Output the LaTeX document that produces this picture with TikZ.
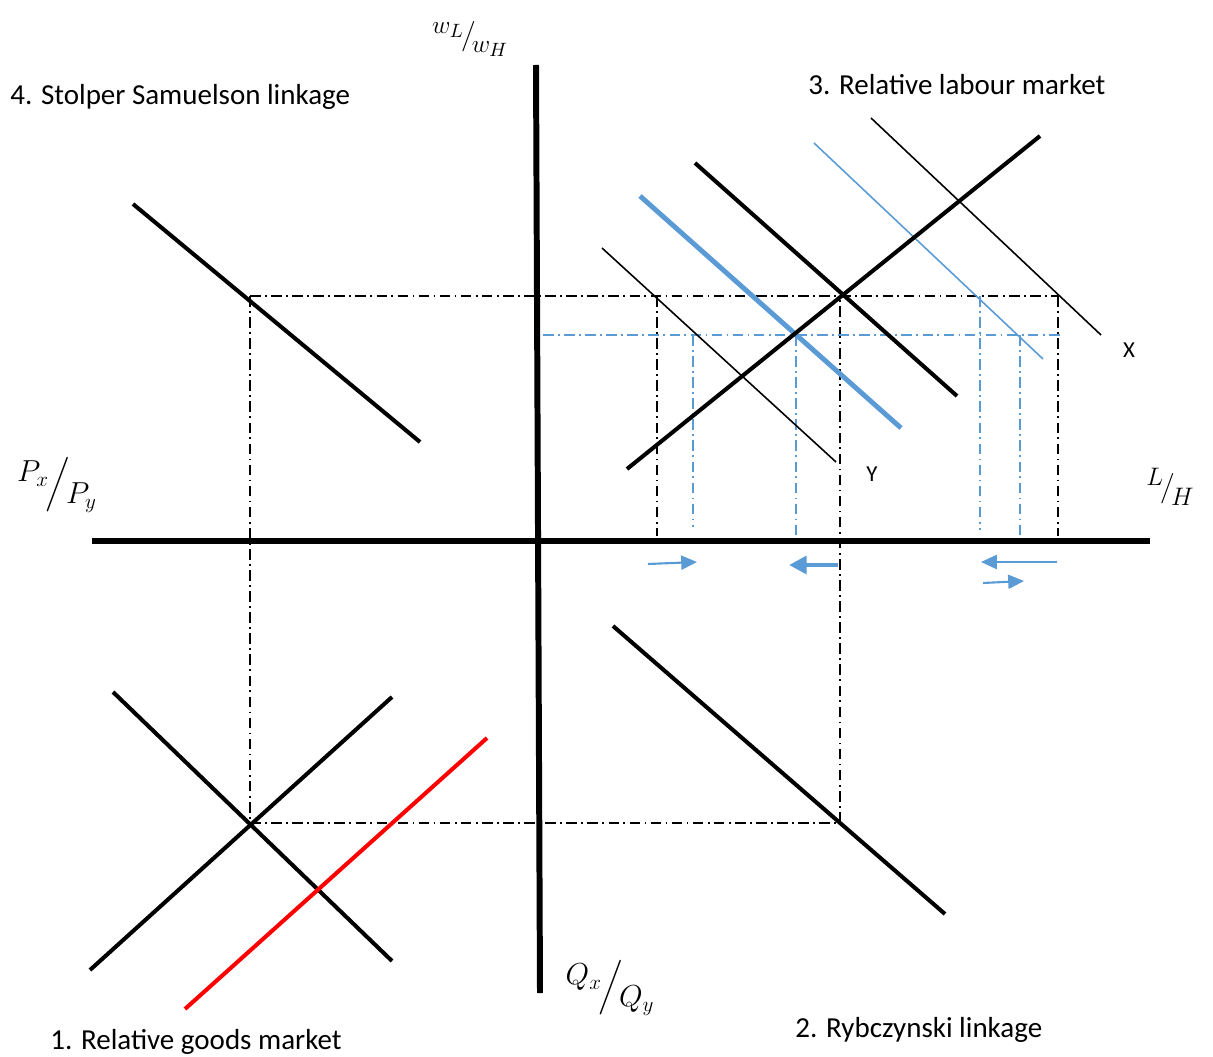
\documentclass[tikz,border=0pt]{standalone}
\usepackage{fontspec}
\setmainfont{Carlito}
\usepackage{amsmath}
\usetikzlibrary{arrows.meta, calc}
\definecolor{offblue}{RGB}{91,155,213}
\newcommand{\ratio}[3][\big]{\raisebox{0.75ex}{$#2$}\kern-0.1em$#1/$\kern-0.15em\raisebox{-0.8ex}{$#3$}}

\begin{document}
\begin{tikzpicture}[
  x=0.02cm, y=-0.02cm,
  axis/.style={line width=3.4pt},
  curve/.style={line width=2.3pt},
  thincurve/.style={line width=0.9pt},
  guide/.style={line width=0.8pt, dash pattern=on 6pt off 2.5pt on 1pt off 2.5pt},
  blueguide/.style={guide, offblue},
  shiftarrow/.style={offblue, line width=1.2pt, -{Triangle[length=9pt,width=8pt]}},
  every node/.style={font=\fontsize{16.5}{19}\selectfont, inner sep=0pt}
]
  \useasboundingbox (0,0) rectangle (1213,1057);

  % Assi
  \coordinate (xl) at (92,541);
  \coordinate (xr) at (1150,541);
  \coordinate (yt) at (536,65);
  \coordinate (yb) at (540,993);

  % Punti di equilibrio
  \coordinate (E4) at (250,296);
  \coordinate (E1) at (250,823);
  \coordinate (E2) at (840,823);
  \coordinate (E3) at (840,296);
  \coordinate (Yup) at (657,296);
  \coordinate (Xup) at (1058,296);

  % --- linee guida ---
  \draw[guide] (E4) -- (Xup);
  \draw[guide] (E4) -- (E1) -- (E2) -- (E3);
  \draw[guide] (Yup) -- (657,536);
  \draw[guide] (Xup) -- (1058,536);
  \draw[blueguide] (543,335) -- (1060,335);
  \draw[blueguide] (693,335) -- (693,527);
  \draw[blueguide] (796,335) -- (796,541);
  \draw[blueguide] (980,296) -- (980,530);
  \draw[blueguide] (1020,335) -- (1020,541);

  \draw[axis] (xl) -- (xr);
  \draw[axis] (yt) -- (yb);

  % --- 4. Stolper Samuelson ---
  \coordinate (ss1) at (133,204);
  \coordinate (ss2) at (420,442);
  \draw[curve] (ss1) -- (ss2);

  % --- 3. mercato del lavoro ---
  \coordinate (ls1) at (627,469);
  \coordinate (ls2) at (1040,136);
  \coordinate (ld1) at (695,163);
  \coordinate (ld2) at (957,396);
  \coordinate (lb1) at (640,196);
  \coordinate (lb2) at (901,428);
  \coordinate (y1) at (602,248);
  \coordinate (y2) at (836,462);
  \coordinate (bx1) at (814,143);
  \coordinate (bx2) at (1043,359);
  \coordinate (x1) at (871,118);
  \coordinate (x2) at (1101,335);
  \draw[thincurve] (y1) -- (y2);
  \draw[thincurve] (x1) -- (x2);
  \draw[thincurve, offblue] (bx1) -- (bx2);
  \draw[line width=2.8pt, offblue] (lb1) -- (lb2);
  \draw[curve] (ld1) -- (ld2);
  \draw[curve] (ls1) -- (ls2);

  % --- 2. Rybczynski ---
  \coordinate (ry1) at (613,626);
  \coordinate (ry2) at (945,914);
  \draw[curve] (ry1) -- (ry2);

  % --- 1. mercato dei beni ---
  \coordinate (gd1) at (113,692);
  \coordinate (gd2) at (392,961);
  \coordinate (gs1) at (90,970);
  \coordinate (gs2) at (392,697);
  \coordinate (gr1) at (185,1009);
  \coordinate (gr2) at (487,738);
  \draw[curve] (gd1) -- (gd2);
  \draw[curve] (gs1) -- (gs2);
  \draw[curve, red] (gr1) -- (gr2);

  % --- frecce ---
  \coordinate (a1) at (648,564);
  \coordinate (a2) at (697,562);
  \coordinate (b1) at (838,565);
  \coordinate (b2) at (789,565);
  \coordinate (c1) at (1057,562);
  \coordinate (c2) at (981,562);
  \coordinate (d1) at (983,583);
  \coordinate (d2) at (1024,581);
  \draw[shiftarrow] (a1) -- (a2);
  \draw[shiftarrow, line width=2.8pt, -{Triangle[length=10pt,width=10pt]}] (b1) -- (b2);
  \draw[shiftarrow] (c1) -- (c2);
  \draw[shiftarrow] (d1) -- (d2);

  % Etichette
  \node[anchor=west] (t4) at (10,97) {4. Stolper Samuelson linkage};
  \node[anchor=west] (t3) at (808,85) {3. Relative labour market};
  \node[anchor=west] (t1) at (50,1042) {1. Relative goods market};
  \node[anchor=west] (t2) at (795,1030) {2. Rybczynski linkage};
  \node[font=\fontsize{13}{15}\selectfont] (lX) at (1129,350) {X};
  \node[font=\fontsize{13}{15}\selectfont] (lY) at (872,474) {Y};

  \node[font=\fontsize{15}{17}\selectfont] (wlab) at (470,39) {\ratio{w_L}{w_H}};
  \node[font=\fontsize{17}{20}\selectfont] (plab) at (57,485) {\ratio[\Big]{P_x}{P_y}};
  \node[font=\fontsize{15}{17}\selectfont] (llab) at (1170,487) {\ratio{L}{H}};
  \node[font=\fontsize{17}{20}\selectfont] (qlab) at (610,988) {\ratio[\Big]{Q_x}{Q_y}};
\end{tikzpicture}
\end{document}
